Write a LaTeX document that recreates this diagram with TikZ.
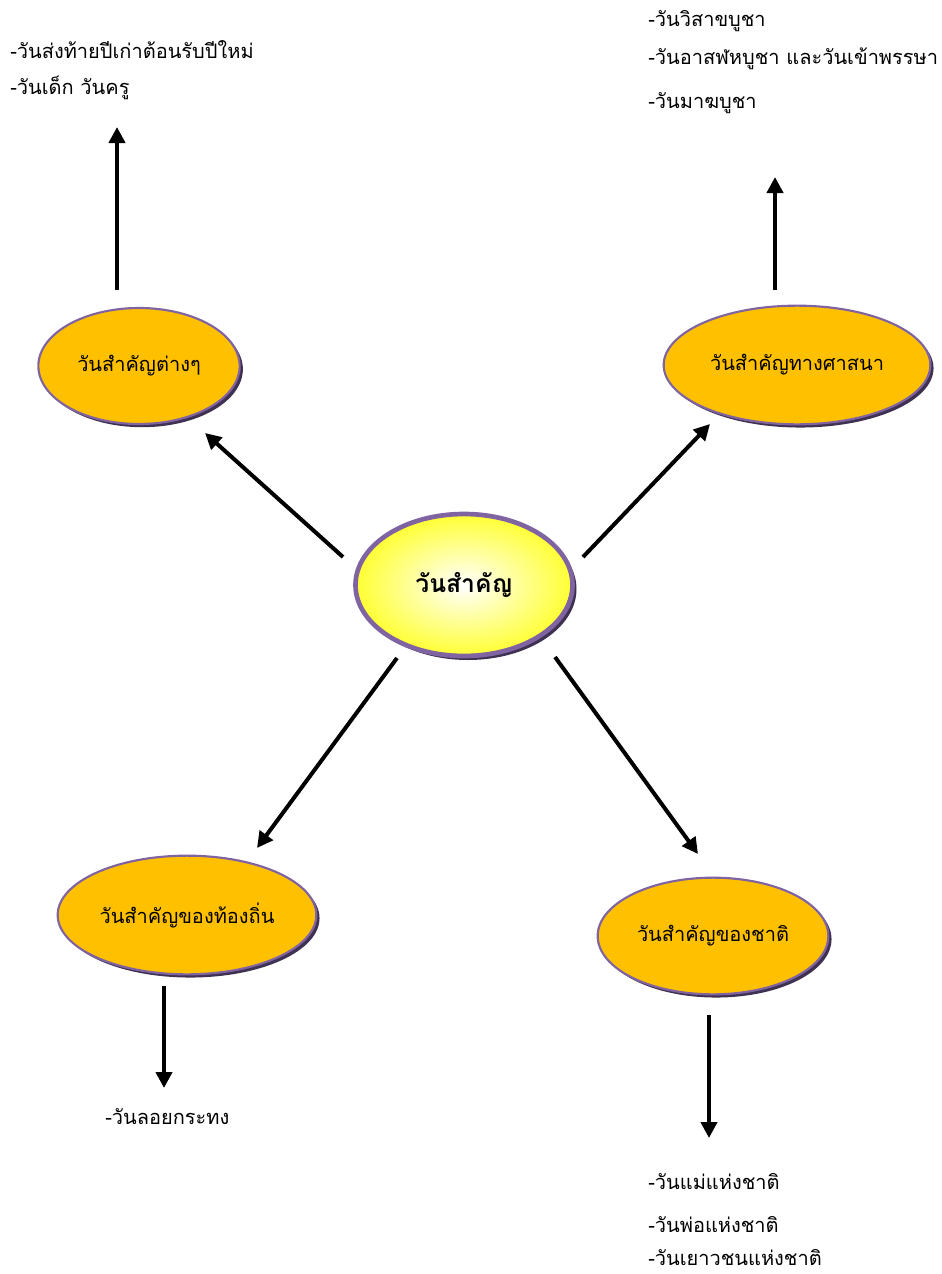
\documentclass[tikz,border=0pt]{standalone}
\usepackage{fontspec}
\newfontfamily\thaifont[Script=Thai]{Loma}
\usetikzlibrary{shapes.geometric,arrows.meta}
\definecolor{bordpurple}{HTML}{8064A2}
\definecolor{shadpurple}{HTML}{3F3151}
\definecolor{orangefill}{HTML}{FFC000}
\definecolor{yellowfill}{HTML}{FFFF33}
\tikzset{
  topic/.style={ellipse, draw=bordpurple, line width=1.6pt, fill=orangefill, inner sep=0pt,
    preaction={fill=shadpurple, transform canvas={shift={(2.4pt,-2.4pt)}}},
    font=\thaifont\fontsize{15}{18}\selectfont},
  hub/.style={ellipse, draw=bordpurple, line width=3.5pt, inner color=white, outer color=yellowfill, inner sep=0pt,
    preaction={fill=shadpurple, transform canvas={shift={(3pt,-3pt)}}},
    font=\thaifont\bfseries\fontsize{18.5}{22}\selectfont},
  leaf/.style={anchor=west, inner sep=0pt, font=\thaifont\fontsize{15}{18}\selectfont},
  conn/.style={line width=3pt, -{Triangle[length=12pt,width=12pt]}},
}
\begin{document}
\begin{tikzpicture}[x=0.75pt,y=-0.75pt]
\useasboundingbox (0,0) rectangle (942,1274);
% nodes
\node[hub, minimum width=162.75pt, minimum height=106.5pt] (hub) at (464,585) {วันสำคัญ};
\node[topic, minimum width=151pt, minimum height=87pt] (tl) at (139,366) {วันสำคัญต่างๆ};
\node[topic, minimum width=200pt, minimum height=89pt] (tr) at (797,365) {วันสำคัญทางศาสนา};
\node[topic, minimum width=194pt, minimum height=89pt] (bl) at (187,915) {วันสำคัญของท้องถิ่น};
\node[topic, minimum width=173pt, minimum height=87.5pt] (br) at (713,936) {วันสำคัญของชาติ};
% connector endpoints
\coordinate (hTL) at (343,557); \coordinate (eTL) at (205,433);
\coordinate (hTR) at (583,557); \coordinate (eTR) at (710,424);
\coordinate (hBL) at (397,658); \coordinate (eBL) at (257,848);
\coordinate (hBR) at (555,657); \coordinate (eBR) at (698,854);
\coordinate (sTL) at (117,290); \coordinate (aTL) at (117,127);
\coordinate (sTR) at (775,290); \coordinate (aTR) at (775,177);
\coordinate (sBL) at (164,986); \coordinate (aBL) at (164,1088);
\coordinate (sBR) at (709,1015); \coordinate (aBR) at (709,1138);
\draw[conn] (hTL) -- (eTL);
\draw[conn] (hTR) -- (eTR);
\draw[conn] (hBL) -- (eBL);
\draw[conn] (hBR) -- (eBR);
\draw[conn] (sTL) -- (aTL);
\draw[conn] (sTR) -- (aTR);
\draw[conn] (sBL) -- (aBL);
\draw[conn] (sBR) -- (aBR);
% leaf texts
\node[leaf] (l1) at (10,50) {-วันส่งท้ายปีเก่าต้อนรับปีใหม่};
\node[leaf] (l2) at (10,88) {-วันเด็ก วันครู};
\node[leaf] (r1) at (648,21) {-วันวิสาขบูชา};
\node[leaf] (r2) at (648,59) {-วันอาสฬหบูชา และวันเข้าพรรษา};
\node[leaf] (r3) at (648,103) {-วันมาฆบูชา};
\node[leaf] (b1) at (105,1117) {-วันลอยกระทง};
\node[leaf] (n1) at (648,1182) {-วันแม่แห่งชาติ};
\node[leaf] (n2) at (648,1225) {-วันพ่อแห่งชาติ};
\node[leaf] (n3) at (648,1258) {-วันเยาวชนแห่งชาติ};
\end{tikzpicture}
\end{document}
